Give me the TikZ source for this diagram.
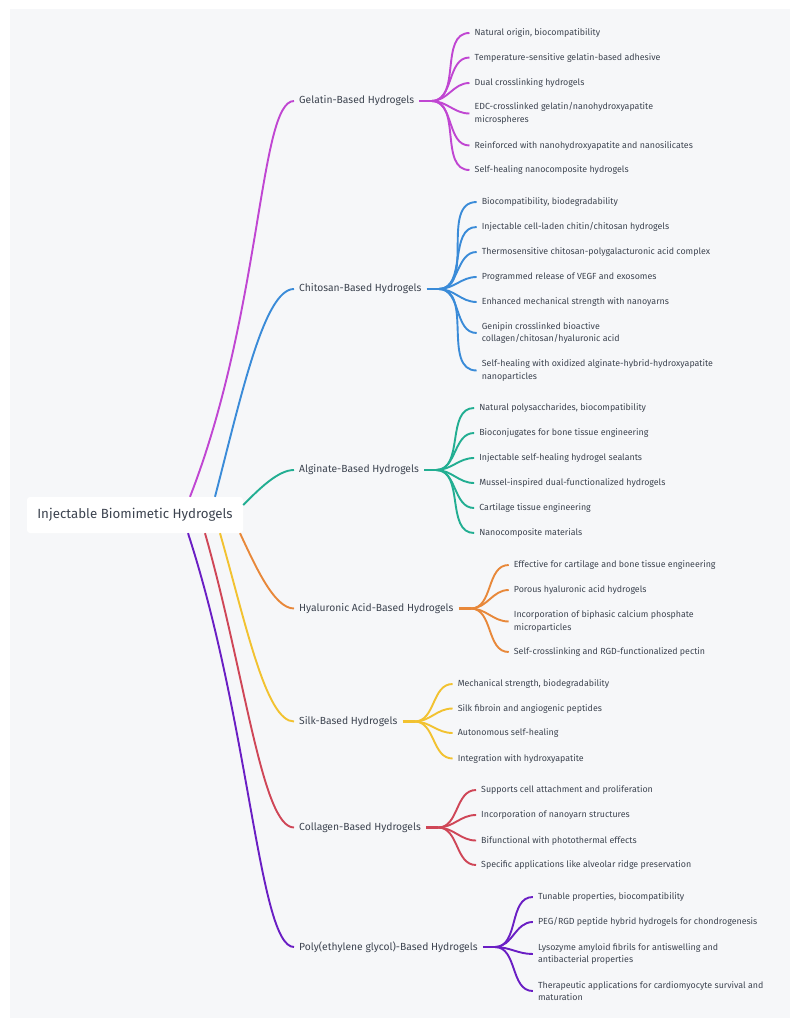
\documentclass[tikz,border=0pt]{standalone}
\usepackage{fontspec}
\setmainfont{Fira Sans}
\usetikzlibrary{positioning}
\definecolor{panel}{HTML}{F6F7F9}
\definecolor{ink}{HTML}{3D4450}
\definecolor{cgel}{HTML}{C046D2}
\definecolor{cchi}{HTML}{3A8BD8}
\definecolor{calg}{HTML}{22AE92}
\definecolor{chya}{HTML}{E8883A}
\definecolor{csilk}{HTML}{F2C230}
\definecolor{ccol}{HTML}{CF4657}
\definecolor{cpeg}{HTML}{6A1EC4}

\begin{document}
\begin{tikzpicture}[x=1pt, y=-1pt,
    root/.style={fill=white, rounded corners=3pt, text=ink, minimum width=216pt, minimum height=36pt, font=\fontsize{13.3}{15}\selectfont},
    cat/.style={anchor=west, text=ink, inner xsep=5pt, font=\fontsize{10.3}{12}\selectfont},
    kid/.style={anchor=west, xshift=38pt, text=ink, inner xsep=5pt, align=left, font=\fontsize{8.85}{12.5}\selectfont},
    link/.style={line width=1.9pt},
    stem/.style={line width=2.6pt},
    fan/.style={link, out=0, in=180}]
  \useasboundingbox (0,0) rectangle (799,1028);
  \fill[white] (0,0) rectangle (799,1028);
  \fill[panel] (10,9) rectangle (790,1018);

  % root
  \node[root] (root) at (135,515) {Injectable Biomimetic Hydrogels};
  \coordinate (r-gel)  at ([xshift=55pt]root.north);
  \coordinate (r-chi)  at ([xshift=80pt]root.north);
  \coordinate (r-alg)  at ([yshift=10pt]root.east);
  \coordinate (r-hya)  at ([xshift=105pt]root.south);
  \coordinate (r-silk) at ([xshift=85pt]root.south);
  \coordinate (r-col)  at ([xshift=70pt]root.south);
  \coordinate (r-peg)  at ([xshift=53pt]root.south);

  % categories
  \node[cat] (gel)  at (294,101)   {Gelatin-Based Hydrogels};
  \node[cat] (chi)  at (294,289)   {Chitosan-Based Hydrogels};
  \node[cat] (alg)  at (294,470)   {Alginate-Based Hydrogels};
  \node[cat] (hya)  at (294,608.5) {Hyaluronic Acid-Based Hydrogels};
  \node[cat] (silk) at (294,721.5) {Silk-Based Hydrogels};
  \node[cat] (col)  at (294,827.5) {Collagen-Based Hydrogels};
  \node[cat] (peg)  at (294,947)   {Poly(ethylene glycol)-Based Hydrogels};

  \draw[link,cgel]  (r-gel)  .. controls +(72,-185) and +(-35,0) .. (gel.west);
  \draw[link,cchi]  (r-chi)  .. controls +(26,-100) and +(-30,0) .. (chi.west);
  \draw[link,calg]  (r-alg)  .. controls +(16,-16) and +(-16,0) .. (alg.west);
  \draw[link,chya]  (r-hya)  .. controls +(15,32) and +(-20,0) .. (hya.west);
  \draw[link,csilk] (r-silk) .. controls +(26,91) and +(-28,0) .. (silk.west);
  \draw[link,ccol]  (r-col)  .. controls +(40,140) and +(-32,0) .. (col.west);
  \draw[link,cpeg]  (r-peg)  .. controls +(62,190) and +(-35,0) .. (peg.west);

  % fan points
  \draw[stem,cgel]  (gel.east)  -- ++(12,0) coordinate (gel-f);
  \draw[stem,cchi]  (chi.east)  -- ++(12,0) coordinate (chi-f);
  \draw[stem,calg]  (alg.east)  -- ++(12,0) coordinate (alg-f);
  \draw[stem,chya]  (hya.east)  -- ++(12,0) coordinate (hya-f);
  \draw[stem,csilk] (silk.east) -- ++(12,0) coordinate (silk-f);
  \draw[stem,ccol]  (col.east)  -- ++(12,0) coordinate (col-f);
  \draw[stem,cpeg]  (peg.east)  -- ++(12,0) coordinate (peg-f);

  % gelatin
  \node[kid] (gel-1) at (gel-f |- 0,33)    {Natural origin, biocompatibility};
  \node[kid] (gel-2) at (gel-f |- 0,57.5)  {Temperature-sensitive gelatin-based adhesive};
  \node[kid] (gel-3) at (gel-f |- 0,83)    {Dual crosslinking hydrogels};
  \node[kid] (gel-4) at (gel-f |- 0,113.5) {EDC-crosslinked gelatin/nanohydroxyapatite\\microspheres};
  \node[kid] (gel-5) at (gel-f |- 0,145.5) {Reinforced with nanohydroxyapatite and nanosilicates};
  \node[kid] (gel-6) at (gel-f |- 0,170)   {Self-healing nanocomposite hydrogels};
  % chitosan
  \node[kid] (chi-1) at (chi-f |- 0,202)   {Biocompatibility, biodegradability};
  \node[kid] (chi-2) at (chi-f |- 0,227)   {Injectable cell-laden chitin/chitosan hydrogels};
  \node[kid] (chi-3) at (chi-f |- 0,252)   {Thermosensitive chitosan-polygalacturonic acid complex};
  \node[kid] (chi-4) at (chi-f |- 0,277)   {Programmed release of VEGF and exosomes};
  \node[kid] (chi-5) at (chi-f |- 0,302)   {Enhanced mechanical strength with nanoyarns};
  \node[kid] (chi-6) at (chi-f |- 0,333)   {Genipin crosslinked bioactive\\collagen/chitosan/hyaluronic acid};
  \node[kid] (chi-7) at (chi-f |- 0,370.5) {Self-healing with oxidized alginate-hybrid-hydroxyapatite\\nanoparticles};
  % alginate
  \node[kid] (alg-1) at (alg-f |- 0,408)   {Natural polysaccharides, biocompatibility};
  \node[kid] (alg-2) at (alg-f |- 0,433)   {Bioconjugates for bone tissue engineering};
  \node[kid] (alg-3) at (alg-f |- 0,458)   {Injectable self-healing hydrogel sealants};
  \node[kid] (alg-4) at (alg-f |- 0,483)   {Mussel-inspired dual-functionalized hydrogels};
  \node[kid] (alg-5) at (alg-f |- 0,508)   {Cartilage tissue engineering};
  \node[kid] (alg-6) at (alg-f |- 0,533)   {Nanocomposite materials};
  % hyaluronic acid
  \node[kid] (hya-1) at (hya-f |- 0,565)   {Effective for cartilage and bone tissue engineering};
  \node[kid] (hya-2) at (hya-f |- 0,590)   {Porous hyaluronic acid hydrogels};
  \node[kid] (hya-3) at (hya-f |- 0,621.5) {Incorporation of biphasic calcium phosphate\\microparticles};
  \node[kid] (hya-4) at (hya-f |- 0,652)   {Self-crosslinking and RGD-functionalized pectin};
  % silk
  \node[kid] (silk-1) at (silk-f |- 0,684)   {Mechanical strength, biodegradability};
  \node[kid] (silk-2) at (silk-f |- 0,708.5) {Silk fibroin and angiogenic peptides};
  \node[kid] (silk-3) at (silk-f |- 0,733)   {Autonomous self-healing};
  \node[kid] (silk-4) at (silk-f |- 0,758.5) {Integration with hydroxyapatite};
  % collagen
  \node[kid] (col-1) at (col-f |- 0,790)   {Supports cell attachment and proliferation};
  \node[kid] (col-2) at (col-f |- 0,815)   {Incorporation of nanoyarn structures};
  \node[kid] (col-3) at (col-f |- 0,840.5) {Bifunctional with photothermal effects};
  \node[kid] (col-4) at (col-f |- 0,865)   {Specific applications like alveolar ridge preservation};
  % peg
  \node[kid] (peg-1) at (peg-f |- 0,897)   {Tunable properties, biocompatibility};
  \node[kid] (peg-2) at (peg-f |- 0,922)   {PEG/RGD peptide hybrid hydrogels for chondrogenesis};
  \node[kid] (peg-3) at (peg-f |- 0,954)   {Lysozyme amyloid fibrils for antiswelling and\\antibacterial properties};
  \node[kid] (peg-4) at (peg-f |- 0,991)   {Therapeutic applications for cardiomyocyte survival and\\maturation};

  \path[fan,cgel] (gel-f) edge (gel-1.west) edge (gel-2.west) edge (gel-3.west)
                          edge (gel-4.west) edge (gel-5.west) edge (gel-6.west);
  \path[fan,cchi] (chi-f) edge (chi-1.west) edge (chi-2.west) edge (chi-3.west)
                          edge (chi-4.west) edge (chi-5.west) edge (chi-6.west) edge (chi-7.west);
  \path[fan,calg] (alg-f) edge (alg-1.west) edge (alg-2.west) edge (alg-3.west)
                          edge (alg-4.west) edge (alg-5.west) edge (alg-6.west);
  \path[fan,chya] (hya-f) edge (hya-1.west) edge (hya-2.west) edge (hya-3.west) edge (hya-4.west);
  \path[fan,csilk] (silk-f) edge (silk-1.west) edge (silk-2.west) edge (silk-3.west) edge (silk-4.west);
  \path[fan,ccol] (col-f) edge (col-1.west) edge (col-2.west) edge (col-3.west) edge (col-4.west);
  \path[fan,cpeg] (peg-f) edge (peg-1.west) edge (peg-2.west) edge (peg-3.west) edge (peg-4.west);
\end{tikzpicture}
\end{document}
